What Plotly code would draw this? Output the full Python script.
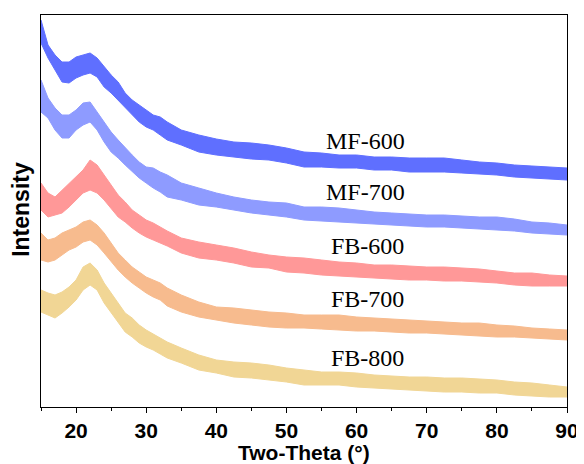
import plotly.graph_objects as go

# Two-theta sample positions (degrees)
two_theta = [15, 16, 17, 18, 19, 20, 21, 22, 23, 24, 25, 26, 27, 28, 29, 30, 31, 32, 33,
             35, 37.5, 40, 42.5, 45, 47.5, 50, 52.5, 55, 57.5, 60, 62.5, 65, 67.5, 70,
             72.5, 75, 77.5, 80, 82.5, 85, 87.5, 90]

# Upper / lower edges of each noisy pattern (offset intensity, a.u.)
mf600_hi = [387, 362, 352, 345, 345, 350, 352, 354, 349, 340, 332, 325, 314, 307, 302, 297, 292, 290, 285,
            277, 272, 268, 265, 264, 262, 259, 255, 254, 252, 252, 250, 250, 249, 249, 249, 247, 245, 244, 242, 241, 240, 239]
mf600_lo = [364, 349, 337, 325, 324, 329, 332, 334, 330, 320, 314, 307, 299, 292, 285, 280, 277, 272, 267,
            262, 255, 252, 250, 248, 247, 244, 240, 240, 239, 239, 237, 237, 235, 235, 235, 234, 233, 232, 230, 229, 228, 227]

mf700_hi = [327, 309, 299, 292, 292, 297, 304, 305, 295, 285, 275, 267, 259, 252, 245, 240, 239, 235, 232,
            224, 219, 214, 210, 207, 205, 204, 200, 200, 199, 197, 195, 194, 193, 192, 192, 191, 190, 190, 188, 185, 184, 182]
mf700_lo = [295, 289, 277, 269, 269, 277, 282, 285, 277, 265, 255, 249, 242, 235, 229, 224, 219, 215, 210,
            207, 202, 200, 197, 194, 192, 190, 187, 186, 185, 184, 183, 182, 181, 180, 180, 179, 178, 177, 176, 174, 173, 172]

fb600_hi = [224, 214, 210, 217, 224, 230, 237, 247, 242, 232, 222, 212, 205, 197, 192, 187, 184, 180, 176,
            169, 165, 162, 159, 155, 152, 150, 149, 147, 145, 144, 142, 142, 141, 140, 140, 139, 138, 136, 134, 134, 132, 131]
fb600_lo = [197, 190, 192, 194, 200, 207, 214, 217, 214, 207, 199, 190, 185, 179, 174, 170, 167, 164, 161,
            154, 149, 147, 144, 140, 139, 135, 134, 132, 131, 130, 129, 128, 127, 127, 126, 126, 125, 124, 122, 121, 121, 121]

fb700_hi = [174, 167, 169, 174, 177, 180, 185, 187, 182, 174, 164, 154, 147, 140, 135, 130, 127, 124, 119,
            112, 105, 100, 99, 97, 95, 94, 92, 92, 92, 90, 89, 88, 87, 86, 85, 84, 84, 82, 81, 79, 78, 77]
fb700_lo = [147, 145, 147, 152, 157, 160, 165, 167, 162, 154, 145, 137, 130, 124, 119, 114, 110, 107, 101,
            95, 90, 87, 84, 82, 80, 79, 79, 78, 77, 76, 76, 75, 74, 74, 73, 72, 71, 70, 70, 69, 68, 67]

fb800_hi = [117, 114, 112, 115, 120, 127, 140, 144, 137, 124, 114, 104, 94, 89, 82, 77, 73, 69, 65,
            59, 52, 47, 45, 44, 42, 39, 37, 35, 35, 34, 32, 31, 30, 30, 29, 29, 28, 27, 25, 24, 22, 20]
fb800_lo = [95, 92, 89, 94, 100, 107, 117, 122, 117, 104, 94, 84, 75, 70, 64, 60, 57, 53, 49,
            44, 37, 34, 30, 29, 27, 25, 22, 22, 22, 20, 19, 18, 17, 16, 15, 15, 14, 14, 12, 11, 10, 10]

names = ["MF-600", "MF-700", "FB-600", "FB-700", "FB-800"]
colors = ["#5f6fff", "#8e9bff", "#ff9898", "#f7bb8e", "#f1d695"]
label_deg = [61.2, 61.2, 61.5, 61.5, 61.6]
label_val = [266, 215, 161, 108, 49]

series = [(mf600_hi, mf600_lo), (mf700_hi, mf700_lo), (fb600_hi, fb600_lo),
          (fb700_hi, fb700_lo), (fb800_hi, fb800_lo)]

fig = go.Figure()
for (hi, lo), name, col in zip(series, names, colors):
    fig.add_trace(go.Scatter(x=two_theta, y=lo, mode="lines",
                             line=dict(color=col, width=1), showlegend=False,
                             hoverinfo="skip"))
    fig.add_trace(go.Scatter(x=two_theta, y=hi, mode="lines", name=name,
                             line=dict(color=col, width=1), fill="tonexty",
                             fillcolor=col, showlegend=False))

for name, xd, yd in zip(names, label_deg, label_val):
    fig.add_annotation(x=xd, y=yd, xref="x", yref="y", text=name, showarrow=False,
                       font=dict(family="Liberation Serif, Times New Roman, serif",
                                 size=24, color="#000000"),
                       xanchor="center", yanchor="middle")

fig.add_annotation(x=0.5, y=0, xref="paper", yref="paper", yshift=-45,
                   text="<b>Two-Theta (°)</b>", showarrow=False,
                   font=dict(family="Liberation Sans, Arial, sans-serif", size=21, color="#000000"),
                   xanchor="center", yanchor="middle")
fig.add_annotation(x=0, y=0.503, xref="paper", yref="paper", xshift=-20,
                   text="<b>Intensity</b>", showarrow=False,
                   font=dict(family="Liberation Sans, Arial, sans-serif", size=23, color="#000000"),
                   textangle=-90, xanchor="center", yanchor="middle")

# page body has an 8px default margin, so the figure is sized to fit the 584x464 window
fig.update_layout(
    width=576, height=456,
    margin=dict(l=33, r=17, t=7, b=57),
    paper_bgcolor="white", plot_bgcolor="white",
    xaxis=dict(range=[15, 90], tickvals=[20, 30, 40, 50, 60, 70, 80, 90],
               automargin=False,
               ticks="outside", ticklen=5, tickwidth=1.3, tickcolor="black",
               showline=True, linecolor="black", linewidth=1.3, mirror=True,
               showgrid=False, zeroline=False,
               tickfont=dict(family="Liberation Sans, Arial, sans-serif", size=21,
                             color="black", weight="bold"),
               minor=dict(tick0=15, dtick=5, ticks="outside", ticklen=3,
                          tickwidth=1.3, tickcolor="black", showgrid=False)),
    yaxis=dict(range=[0, 392], showticklabels=False, ticks="", automargin=False,
               showline=True, linecolor="black", linewidth=1.3, mirror=True,
               showgrid=False, zeroline=False),
)

fig.write_html("out.html")
